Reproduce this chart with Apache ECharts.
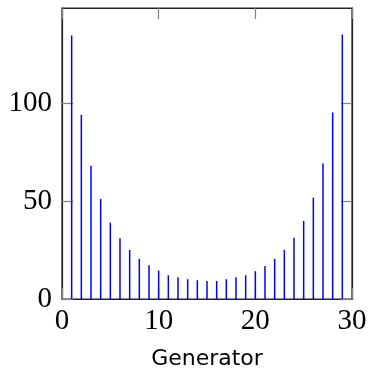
<!DOCTYPE html>
<html>
<head>
<meta charset="utf-8">
<script src="https://cdn.jsdelivr.net/npm/echarts@6/dist/echarts.min.js"></script>
<style>
  html, body { margin: 0; padding: 0; background: #fff; }
  #chart { width: 368px; height: 370px; }
</style>
</head>
<body>
<div id="chart"></div>
<script>
// generator index and value
const generators = [1, 2, 3, 4, 5, 6, 7, 8, 9, 10, 11, 12, 13, 14, 15,
                    16, 17, 18, 19, 20, 21, 22, 23, 24, 25, 26, 27, 28, 29]
const counts = [134.5, 94, 68, 51, 39, 31, 25, 20.5, 17.2, 14.5, 12.1, 11.1, 10.1, 9.6, 9.2,
                9.2, 10.1, 11.1, 12.1, 14.2, 16.9, 20.5, 25.1, 31.2, 39.8, 51.7, 69.1, 95.2, 135]
const xTicks = [0, 10, 20, 30]
const yTicks = [0, 50, 100]

const serif = '"Liberation Serif", "DejaVu Serif", serif'
const frame = { show: true, onZero: false, lineStyle: { color: '#222', width: 1.2 } }
const tick = { show: true, inside: true, length: 11, lineStyle: { color: '#808080', width: 1.2 } }

const chart = echarts.init(document.getElementById('chart'))
chart.setOption({
    animation: false,
    grid: {
        left: 62, right: 16, top: 8, bottom: 71,
        outerBoundsMode: 'none',
        show: true, borderColor: '#222', borderWidth: 1.2
    },
    xAxis: [
        {
            type: 'value', min: 0, max: 30, position: 'bottom',
            name: 'Generator', nameLocation: 'middle', nameGap: 49,
            nameTextStyle: { fontFamily: '"DejaVu Sans", sans-serif', fontSize: 22, color: '#000' },
            axisLine: frame,
            axisTick: Object.assign({}, tick, { customValues: xTicks }),
            axisLabel: { customValues: xTicks, fontFamily: serif, fontSize: 29, color: '#000', margin: 8 },
            splitLine: { show: false }
        },
        {
            type: 'value', min: 0, max: 30, position: 'top',
            axisLine: frame,
            axisTick: Object.assign({}, tick, { customValues: xTicks }),
            axisLabel: { show: false },
            splitLine: { show: false }
        }
    ],
    yAxis: [
        {
            type: 'value', min: 0, max: 148.5, position: 'left',
            axisLine: frame,
            axisTick: Object.assign({}, tick, { customValues: yTicks }),
            axisLabel: { customValues: yTicks, fontFamily: serif, fontSize: 29, color: '#000', margin: 10 },
            splitLine: { show: false }
        },
        {
            type: 'value', min: 0, max: 148.5, position: 'right',
            axisLine: frame,
            axisTick: Object.assign({}, tick, { customValues: yTicks }),
            axisLabel: { show: false },
            splitLine: { show: false }
        }
    ],
    series: [
        {
            type: 'bar',
            data: generators.map((g, i) => [g, counts[i]]),
            barWidth: 1.5,
            itemStyle: { color: '#0000ff' }
        },
        {
            // keeps the mirrored top/right axes alive
            type: 'line', xAxisIndex: 1, yAxisIndex: 1, data: [], silent: true
        }
    ]
})
</script>
</body>
</html>
